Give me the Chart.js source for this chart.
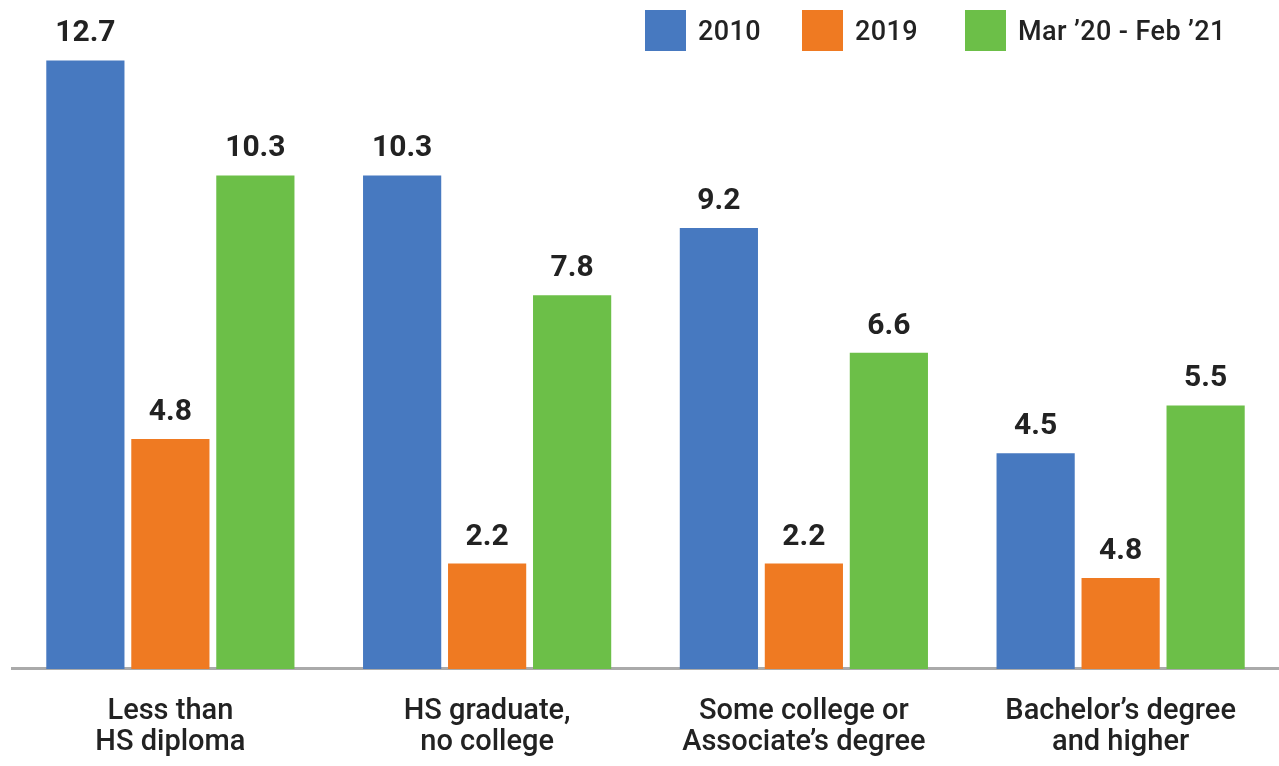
<!DOCTYPE html>
<html>
<head>
<meta charset="utf-8">
<script src="https://cdn.jsdelivr.net/npm/chart.js@4.4.1/dist/chart.umd.min.js"></script>
<style>
  body { margin: 0; background: #fff; font-family: Roboto, "Noto Sans", sans-serif; }
  #wrap { position: relative; width: 1279px; height: 766px; }
  #legend { color: #222; font-size: 27px; font-weight: 500; letter-spacing: 0.4px; }
  #legend .item { position: absolute; top: 10px; display: flex; align-items: center; height: 41px; white-space: nowrap; }
  #legend .box { width: 41px; height: 41px; margin-right: 12px; }
</style>
</head>
<body>
<div id="wrap">
  <canvas id="eduChart" width="1279" height="766"></canvas>
  <div id="legend"></div>
</div>
<script>
const categories = [
    ['Less than', 'HS diploma'],
    ['HS graduate,', 'no college'],
    ['Some college or', 'Associate’s degree'],
    ['Bachelor’s degree', 'and higher']
];
const seriesNames = ['2010', '2019', 'Mar ’20 - Feb ’21'];
const values2010 = [12.7, 10.3, 9.2, 4.5];
// last 2019 bar is drawn much shorter than its printed label in the source
const values2019 = [4.8, 2.2, 2.2, 1.9];
const valuesCovid = [10.3, 7.8, 6.6, 5.5];
const printed2010 = ['12.7', '10.3', '9.2', '4.5'];
const printed2019 = ['4.8', '2.2', '2.2', '4.8'];
const printedCovid = ['10.3', '7.8', '6.6', '5.5'];
const colors = ['#4779C0', '#EF7A22', '#6CBF48'];

const printed = [printed2010, printed2019, printedCovid];
const legendLeft = [645, 802, 965];

// html legend
document.getElementById('legend').innerHTML = seriesNames.map((name, i) =>
    `<div class="item" style="left:${legendLeft[i]}px"><span class="box" style="background:${colors[i]}"></span>${name}</div>`
).join('');

const barLabels = {
    id: 'barLabels',
    afterDatasetsDraw(chart) {
        const ctx = chart.ctx;
        ctx.save();
        ctx.font = 'bold 30px Roboto, sans-serif';
        ctx.fillStyle = '#222';
        ctx.textAlign = 'center';
        ctx.textBaseline = 'alphabetic';
        chart.data.datasets.forEach((ds, i) => {
            chart.getDatasetMeta(i).data.forEach((bar, j) => {
                ctx.fillText(printed[i][j], bar.x, bar.y - 19);
            });
        });
        ctx.restore();
    }
};

const ctx = document.getElementById('eduChart').getContext('2d');
const chart = new Chart(ctx, {
    type: 'bar',
    data: {
        labels: categories,
        datasets: [
            { label: seriesNames[0], data: values2010, backgroundColor: colors[0] },
            { label: seriesNames[1], data: values2019, backgroundColor: colors[1] },
            { label: seriesNames[2], data: valuesCovid, backgroundColor: colors[2] }
        ]
    },
    options: {
        responsive: false,
        animation: false,
        datasets: {
            bar: { barPercentage: 0.92, categoryPercentage: 0.805 }
        },
        layout: { padding: { top: 46, left: 12, right: 0, bottom: -19 } },
        plugins: {
            legend: { display: false },
            tooltip: { enabled: false }
        },
        scales: {
            x: {
                grid: { display: false, drawTicks: false },
                border: { display: true, color: '#aaaaaa', width: 3 },
                ticks: {
                    color: '#222',
                    padding: 27,
                    maxRotation: 0,
                    autoSkip: false,
                    font: { family: 'Roboto', size: 29, weight: 500, lineHeight: 1.07 }
                }
            },
            y: {
                display: false,
                min: 0,
                max: 13
            }
        }
    },
    plugins: [barLabels]
});
</script>
</body>
</html>
